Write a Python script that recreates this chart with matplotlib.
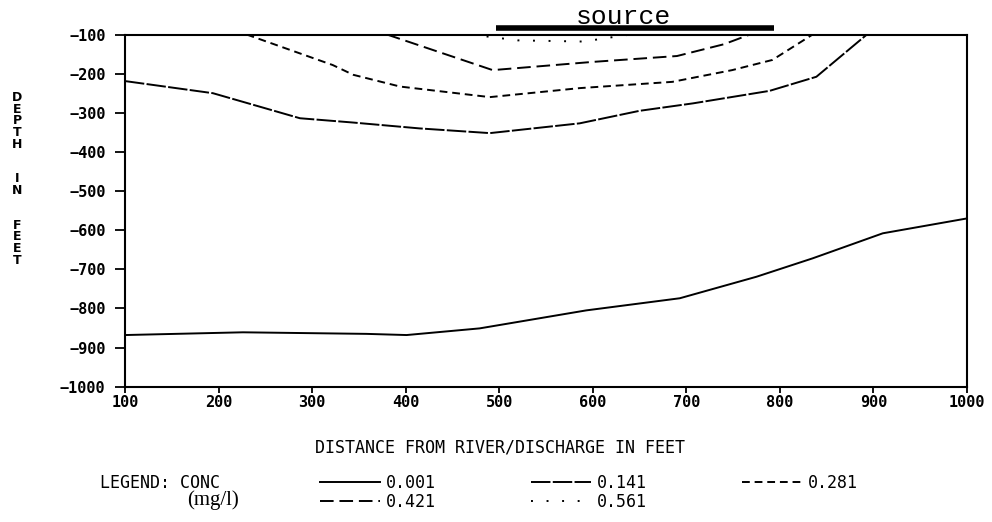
import matplotlib
matplotlib.use('Agg')
import matplotlib.pyplot as plt

# contour lines (distance in feet, depth in feet)
x_001 = [100, 226, 358, 401, 479, 593, 693, 775, 835, 910, 1000]
d_001 = [-868, -861, -865, -868, -851, -805, -774, -719, -672, -608, -570]

x_141 = [100, 194, 287, 344, 415, 490, 586, 650, 707, 789, 839, 893]
d_141 = [-219, -250, -314, -325, -340, -352, -327, -295, -276, -244, -208, -100]

x_281 = [230, 322, 344, 394, 490, 586, 685, 749, 792, 835]
d_281 = [-100, -178, -203, -233, -260, -237, -221, -191, -165, -100]

x_421 = [380, 493, 600, 690, 740, 768]
d_421 = [-100, -191, -170, -155, -125, -100]

x_561 = [470, 520, 590, 640]
d_561 = [-100, -115, -118, -100]

source_x = [497, 794]
source_d = [-83, -83]

x_ticks = [100, 200, 300, 400, 500, 600, 700, 800, 900, 1000]
y_ticks = [-100, -200, -300, -400, -500, -600, -700, -800, -900, -1000]

mono = 'DejaVu Sans Mono'

fig = plt.figure(figsize=(9.92, 5.22), dpi=100)
ax = fig.add_axes([0.126, 0.2592, 0.8488, 0.6747])

lw = 1.4
l001, = ax.plot(x_001, d_001, color='black', lw=lw)
l141, = ax.plot(x_141, d_141, color='black', lw=lw, dashes=(10, 1.2))
l281, = ax.plot(x_281, d_281, color='black', lw=lw, dashes=(4, 2.5))
l421, = ax.plot(x_421, d_421, color='black', lw=lw, dashes=(7, 3))
l561, = ax.plot(x_561, d_561, color='black', lw=lw, dashes=(1, 7))

# source strip above the plot
ax.plot(source_x, source_d, color='black', lw=4, solid_capstyle='butt', clip_on=False)
ax.text(633, -86, 'source', ha='center', va='bottom', family='Liberation Mono',
        fontsize=19, clip_on=False)

ax.set_xlim(100, 1000)
ax.set_ylim(-1000, -100)
ax.set_xticks(x_ticks)
ax.set_yticks(y_ticks)
for s in ax.spines.values():
    s.set_linewidth(1.5)
ax.tick_params(axis='y', direction='out', length=7, width=1.3, pad=7)
ax.tick_params(axis='x', direction='out', length=4, width=1.3, pad=2)
for lab in ax.get_xticklabels() + ax.get_yticklabels():
    lab.set_family(mono)
    lab.set_fontweight('bold')
    lab.set_fontsize(11)

ax.set_xlabel('DISTANCE FROM RIVER/DISCHARGE IN FEET', family=mono, fontsize=12)
ax.xaxis.set_label_coords(0.445, -0.1485)
ax.set_ylabel('D\nE\nP\nT\nH\n\n\nI\nN\n\n\nF\nE\nE\nT', rotation=0, family='DejaVu Sans',
              fontweight='bold', fontsize=9, linespacing=0.86, ha='center', va='center')
ax.yaxis.set_label_coords(-0.128, 0.59)

handles = [l001, l421, l141, l561, l281]
labels = ['0.001', '0.421', '0.141', '0.561', '0.281']
leg = fig.legend(handles, labels, ncol=3, loc='upper left', frameon=False,
                 bbox_to_anchor=(320 / 992, 1 - 474 / 522), borderpad=0, borderaxespad=0,
                 handlelength=3.6, handletextpad=0.35, columnspacing=5.7, labelspacing=0.05,
                 prop={'family': mono, 'size': 12})

fig.text(100 / 992, 1 - 483 / 522, 'LEGEND: CONC', family=mono, fontsize=12, va='center', ha='left')
fig.text(187 / 992, 1 - 500 / 522, '(mg/l)', family='Liberation Serif', fontsize=15,
         va='center', ha='left')

fig.savefig('out.png', dpi=100, facecolor='white')
